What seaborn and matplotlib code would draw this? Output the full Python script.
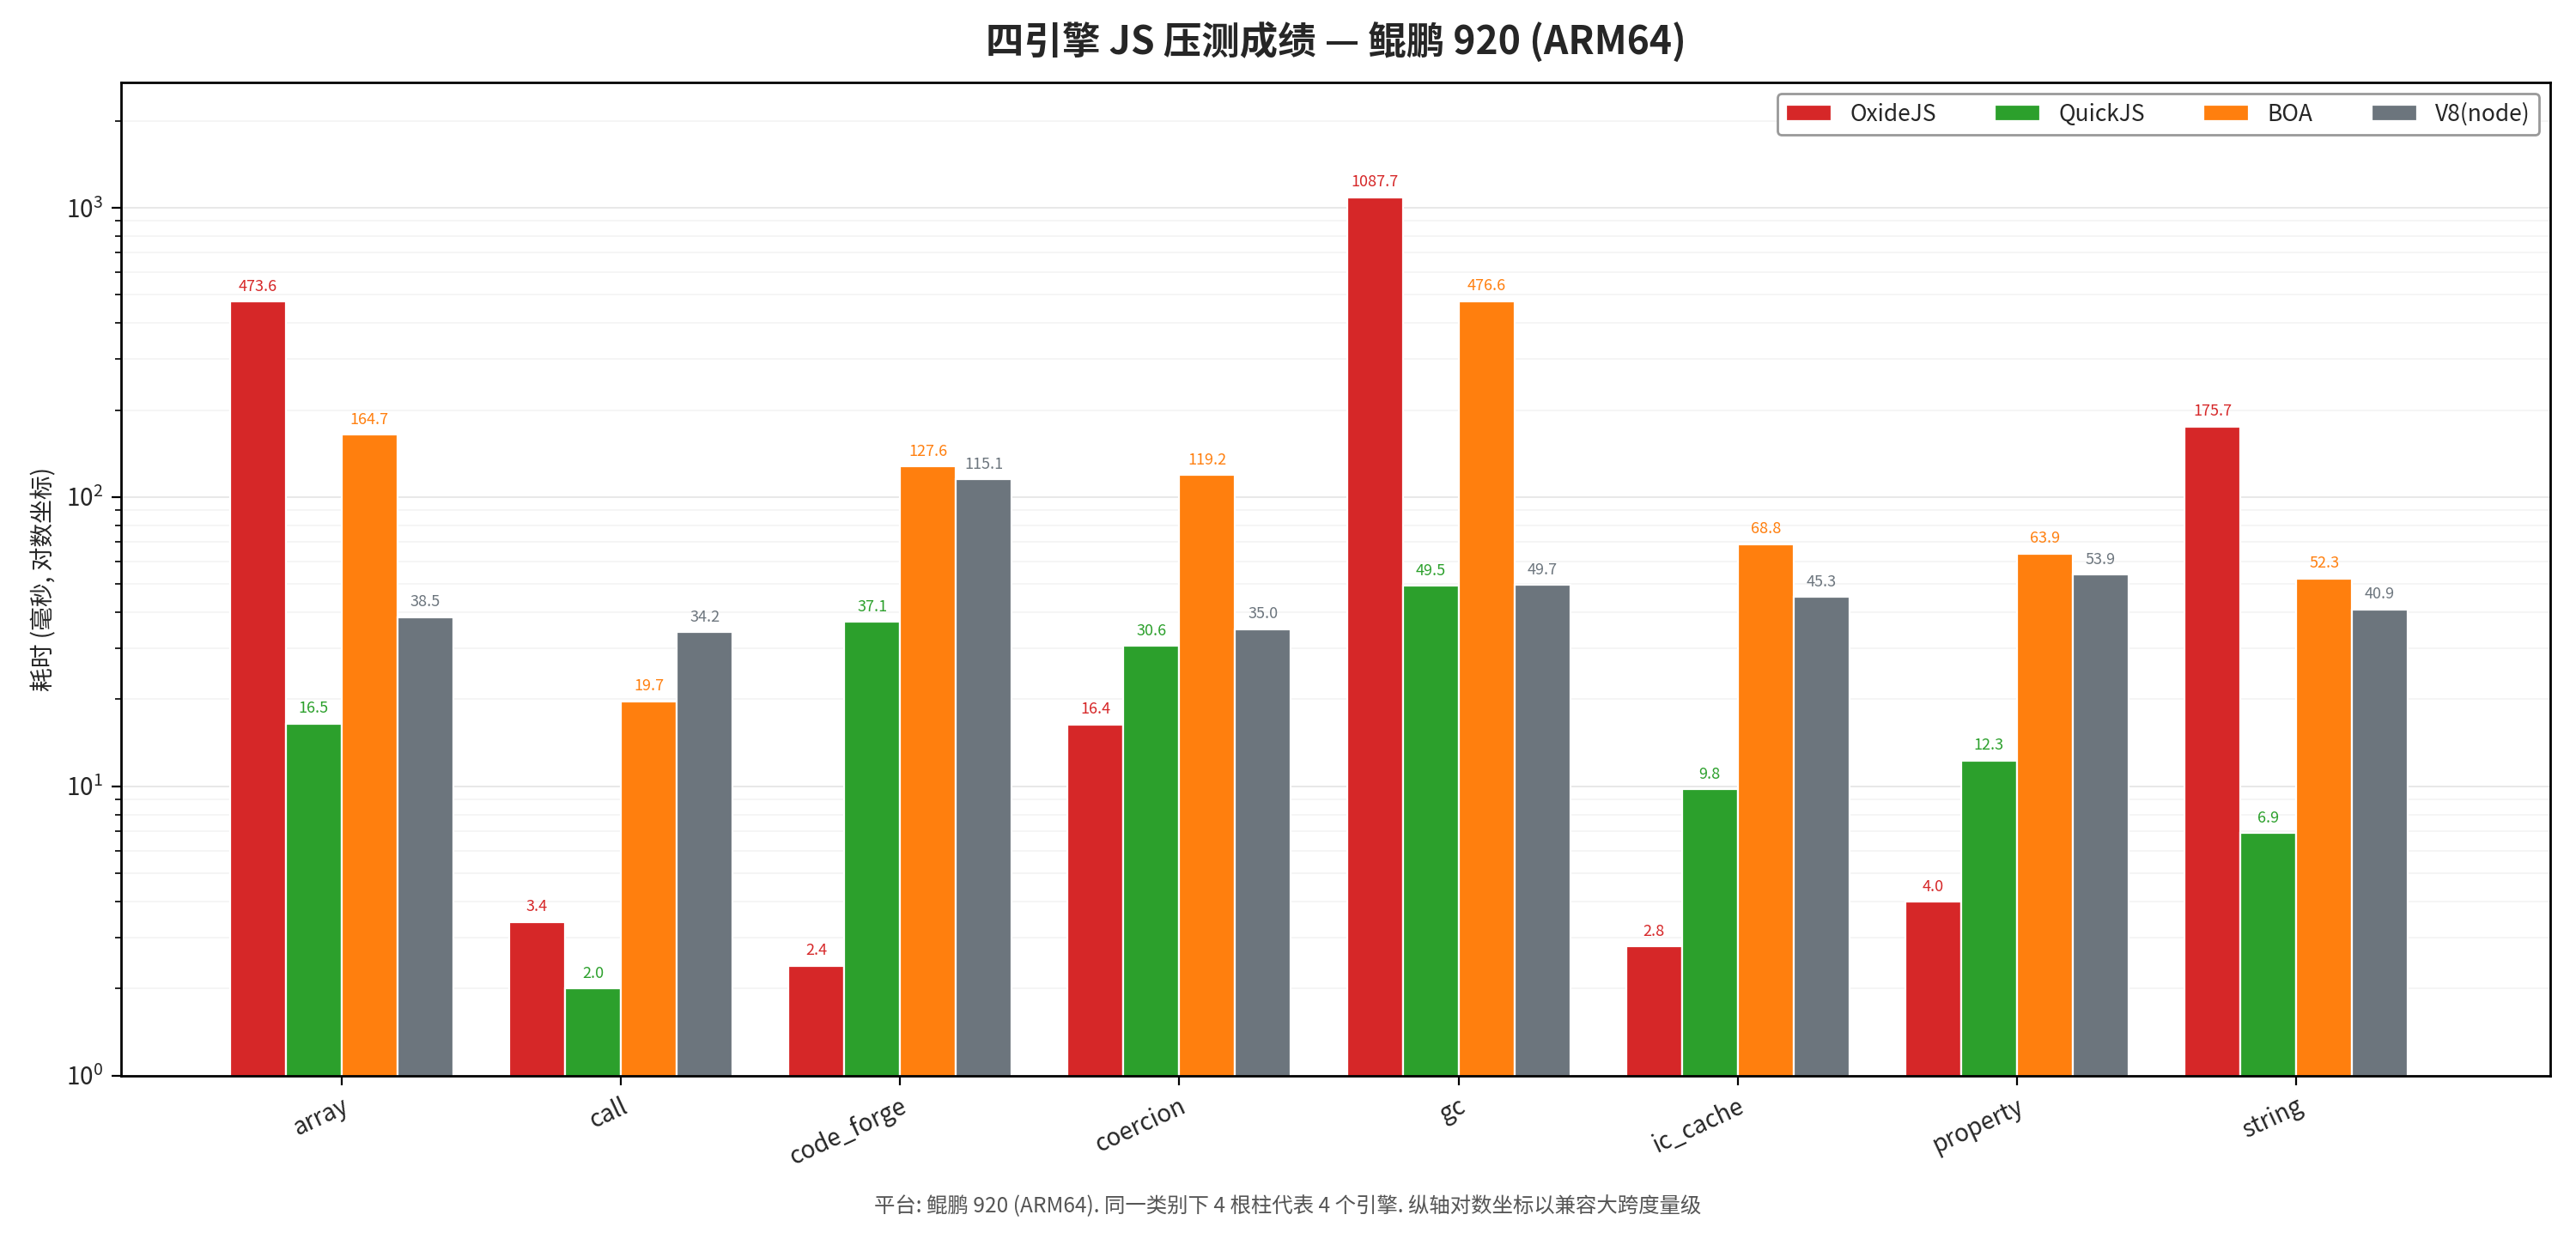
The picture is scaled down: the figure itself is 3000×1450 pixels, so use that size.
import pandas as pd
import seaborn as sns
import matplotlib.pyplot as plt

categories = ['array', 'call', 'code_forge', 'coercion', 'gc', 'ic_cache', 'property', 'string']
engines = ['OxideJS', 'QuickJS', 'BOA', 'V8(node)']
oxidejs = [473.6, 3.4, 2.4, 16.4, 1087.7, 2.8, 4.0, 175.7]
quickjs = [16.5, 2.0, 37.1, 30.6, 49.5, 9.8, 12.3, 6.9]
boa = [164.7, 19.7, 127.6, 119.2, 476.6, 68.8, 63.9, 52.3]
v8node = [38.5, 34.2, 115.1, 35.0, 49.7, 45.3, 53.9, 40.9]
colors = ['#d62728', '#2ca02c', '#ff7f0e', '#6c757d']

rows = []
for eng, vals in zip(engines, [oxidejs, quickjs, boa, v8node]):
    for cat, v in zip(categories, vals):
        rows.append({'category': cat, 'engine': eng, 'ms': v})
df = pd.DataFrame(rows)

sns.set_theme(style='white')
plt.rcParams['font.family'] = ['Noto Sans CJK SC', 'DejaVu Sans']
plt.rcParams['axes.unicode_minus'] = False

fig, ax = plt.subplots(figsize=(15, 7.25), dpi=200)
fig.subplots_adjust(left=0.047, right=0.99, top=0.934, bottom=0.136)
ax.set_yscale('log')

sns.barplot(data=df, x='category', y='ms', hue='engine', order=categories,
            hue_order=engines, palette=colors, width=0.8,
            edgecolor='white', linewidth=0.8, saturation=1, ax=ax)

for cont, c in zip(ax.containers, colors):
    ax.bar_label(cont, fmt='%.1f', color=c, fontsize=6.5, padding=3)

ymax = max(oxidejs + quickjs + boa + v8node) * 2.5
ax.set_ylim(1, ymax)
ax.set_xlim(-0.79, 7.91)

ax.grid(True, which='major', axis='y', color='#e8e8e8', linewidth=0.7)
ax.grid(True, which='minor', axis='y', color='#f4f4f4', linewidth=0.6)
ax.set_axisbelow(True)
for sp in ax.spines.values():
    sp.set_visible(True)
    sp.set_color('black')
    sp.set_linewidth(1.0)

ax.tick_params(axis='both', which='major', direction='out', length=4, width=0.8,
               bottom=True, left=True, labelsize=10, color='black')
ax.tick_params(axis='y', which='minor', direction='out', length=2.5, width=0.6, left=True, color='black')
plt.setp(ax.get_xticklabels(), rotation=25, ha='right', rotation_mode='anchor')

ax.set_xlabel('')
ax.set_ylabel('耗时 (毫秒, 对数坐标)', fontsize=10)

ax.legend(loc='upper right', ncol=4, fontsize=9.5, frameon=True, edgecolor='#999999',
          fancybox=True, framealpha=1, handlelength=2.0, columnspacing=2.6)

ax.set_title('四引擎 JS 压测成绩 — 鲲鹏 920 (ARM64)', fontsize=16, fontweight='bold', pad=12)
fig.text(0.5, 0.031, '平台: 鲲鹏 920 (ARM64). 同一类别下 4 根柱代表 4 个引擎. 纵轴对数坐标以兼容大跨度量级',
         ha='center', va='center', fontsize=8.8, color='#555555')

plt.savefig('out.png')
